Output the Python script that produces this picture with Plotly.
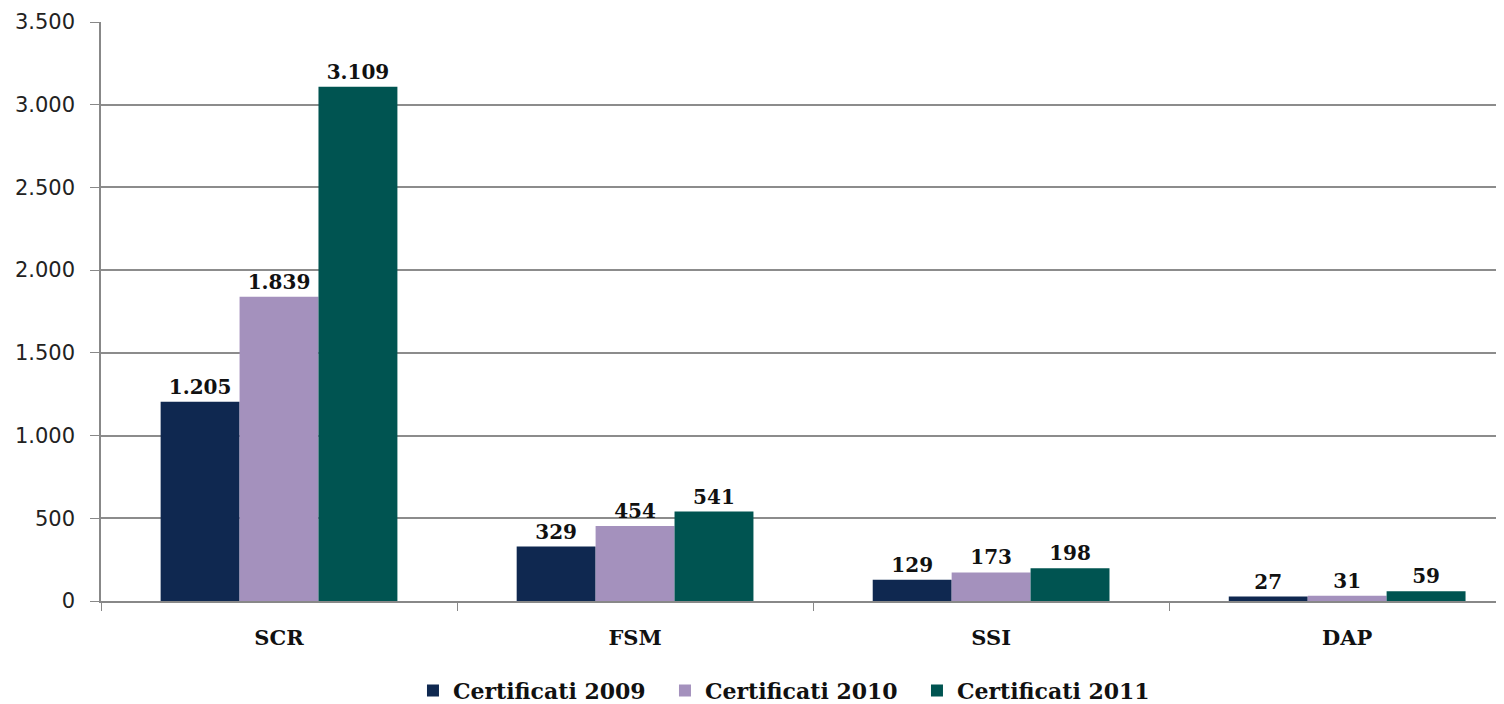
import plotly.graph_objects as go

categories = ["SCR", "FSM", "SSI", "DAP"]
series_names = ["Certificati 2009", "Certificati 2010", "Certificati 2011"]
v2009 = [1205, 329, 129, 27]
v2010 = [1839, 454, 173, 31]
v2011 = [3109, 541, 198, 59]
colors = ["#0F2850", "#A491BD", "#005451"]

y_ticks = [0, 500, 1000, 1500, 2000, 2500, 3000, 3500]
y_tick_labels = ["0", "500", "1.000", "1.500", "2.000", "2.500", "3.000", "3.500"]

SERIF = "DejaVu Serif"


def fmt(v):
    return f"{v:,}".replace(",", ".")


fig = go.Figure()
for name, vals, col in zip(series_names, [v2009, v2010, v2011], colors):
    fig.add_trace(go.Bar(
        x=categories, y=vals, name=f"<b>{name}</b>",
        marker=dict(color=col, line=dict(width=0)),
        text=[fmt(v) for v in vals],
        textposition="outside",
        cliponaxis=False,
        textfont=dict(family=SERIF, size=20, color="#111"),
        texttemplate="<b>%{text}</b>",
    ))

fig.update_layout(
    width=1504, height=704,
    margin=dict(l=93, r=0, t=14, b=105),
    paper_bgcolor="white", plot_bgcolor="white",
    barmode="group", bargap=0.335, bargroupgap=0,
    showlegend=True,
    legend=dict(orientation="h", x=0.489, xanchor="center", y=-0.155, yanchor="middle",
                font=dict(family=SERIF, size=22, color="#111"),
                itemsizing="constant", traceorder="normal", itemwidth=30,
                entrywidth=207, entrywidthmode="pixels"),
    font=dict(family="DejaVu Sans", color="#222"),
)
fig.update_xaxes(
    range=[-0.5, 3.463], automargin=False,
    showline=True, linecolor="#888", linewidth=1.5,
    ticks="outside", tickson="boundaries", ticklen=8, tickcolor="#888",
    tickfont=dict(family=SERIF, size=21, color="#111"),
    tickprefix="<b>", ticksuffix="</b>",
    ticklabelstandoff=17,
    showgrid=False,
)
fig.update_yaxes(
    range=[0, 3500], tickvals=y_ticks, ticktext=y_tick_labels, automargin=False,
    showline=True, linecolor="#888", linewidth=1.5,
    ticks="outside", ticklen=9, tickcolor="#888",
    tickfont=dict(family="DejaVu Sans", size=21, color="#222"),
    ticklabelstandoff=11,
    showgrid=True, gridcolor="#8c8c8c", gridwidth=1.5,
    zeroline=False,
)

fig.write_html("out.html")
